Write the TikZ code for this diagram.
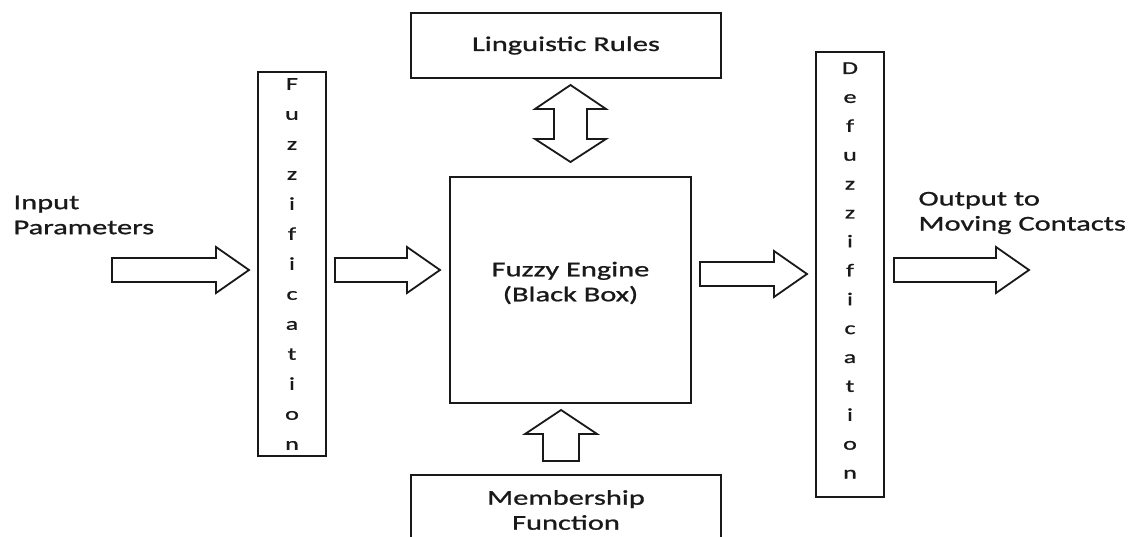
\documentclass[tikz,border=0pt]{standalone}
\usepackage{fontspec}
\setmainfont[FakeStretch=1.45,FakeBold=1]{Carlito}
\usetikzlibrary{calc}

% horizontal block arrow from tail #1 to tip #2
\newcommand{\hblock}[2]{%
  \draw[blockarrow] let \p1=(#1), \p2=(#2) in
    (\x1,\y1+12pt) -- (\x2-33pt,\y1+12pt) -- (\x2-33pt,\y1+23pt) -- (\x2,\y1)
    -- (\x2-33pt,\y1-23pt) -- (\x2-33pt,\y1-12pt) -- (\x1,\y1-12pt) -- cycle;}

\begin{document}
\begin{tikzpicture}[x=1pt,y=-1pt,
  box/.style={draw=black!90, line width=2pt, inner sep=0pt},
  blockarrow/.style={draw=black!90, line width=1.8pt, fill=white, line join=miter},
  txt/.style={text=black!90, font=\fontsize{21}{25}\selectfont},
  vtxt/.style={text=black!90, align=center},
]
\useasboundingbox (0,0) rectangle (1131,537);
\clip (0,0) rectangle (1131,537);

% blocks
\node[box, minimum width=310, minimum height=65, txt] (rules) at (566,45.5) {Linguistic Rules};
\node[box, minimum width=241, minimum height=226] (engine) at (570.5,290) {};
\node[txt, align=center] (engtext) at (570.5,283) {Fuzzy Engine\\(Black Box)};
\node[box, minimum width=310, minimum height=73] (mf) at (566,511.5) {};
\node[txt, align=center] (mftext) at (566,510) {Membership\\Function};
\node[box, minimum width=68, minimum height=384, vtxt,
      font=\fontsize{18}{30}\selectfont] (fuzz) at (292,264)
  {F\\u\\z\\z\\i\\f\\i\\c\\a\\t\\i\\o\\n};
\node[box, minimum width=68, minimum height=445, vtxt,
      font=\fontsize{18}{28.9}\selectfont] (defuzz) at (850,274.5) {};
\node[vtxt, font=\fontsize{18}{28.9}\selectfont] (defuzztext) at (850,270.5)
  {D\\e\\f\\u\\z\\z\\i\\f\\i\\c\\a\\t\\i\\o\\n};

% side labels
\node[txt, align=left, anchor=west] (inlabel) at (10,215) {Input\\Parameters};
\node[txt, align=left, anchor=west] (outlabel) at (915,213) {Output to\\Moving Contacts};

% arrow end points
\coordinate (a1) at (112,270);
\coordinate (a1tip) at ($(fuzz.west |- a1)+(-8,0)$);
\coordinate (a2) at ($(fuzz.east |- a1)+(8,0)$);
\coordinate (a2tip) at ($(engine.west |- a1)+(-9,0)$);
\coordinate (a3) at ($(engine.east)+(8,-16)$);
\coordinate (a3tip) at ($(defuzz.west |- a3)+(-8,0)$);
\coordinate (a4) at ($(defuzz.east |- a1)+(9,0)$);
\coordinate (a4tip) at (1029,270);

\hblock{a1}{a1tip}
\hblock{a2}{a2tip}
\hblock{a3}{a3tip}
\hblock{a4}{a4tip}

% two-way arrow between rules and engine
\coordinate (dtop) at ($(rules.south)+(4.5,6)$);
\coordinate (dbot) at ($(engine.north)+(0,-14)$);
\draw[blockarrow] let \p1=(dtop), \p2=(dbot) in
  (\x1,\y1) -- (\x1+35.5pt,\y1-24pt) -- (\x1+16.5pt,\y1-24pt) -- (\x1+16.5pt,\y2+23pt)
  -- (\x1+35.5pt,\y2+23pt) -- (\x1,\y2) -- (\x1-35.5pt,\y2+23pt) -- (\x1-16.5pt,\y2+23pt)
  -- (\x1-16.5pt,\y1-24pt) -- (\x1-35.5pt,\y1-24pt) -- cycle;

% arrow from membership function up to engine
\coordinate (ubot) at ($(mf.north)+(-5,-13)$);
\coordinate (utip) at ($(engine.south)+(-9.5,6)$);
\draw[blockarrow] let \p1=(ubot), \p2=(utip) in
  (\x1-18pt,\y1) -- (\x1-18pt,\y2-24pt) -- (\x1-36pt,\y2-24pt) -- (\x1,\y2)
  -- (\x1+36pt,\y2-24pt) -- (\x1+18pt,\y2-24pt) -- (\x1+18pt,\y1) -- cycle;
\end{tikzpicture}
\end{document}
